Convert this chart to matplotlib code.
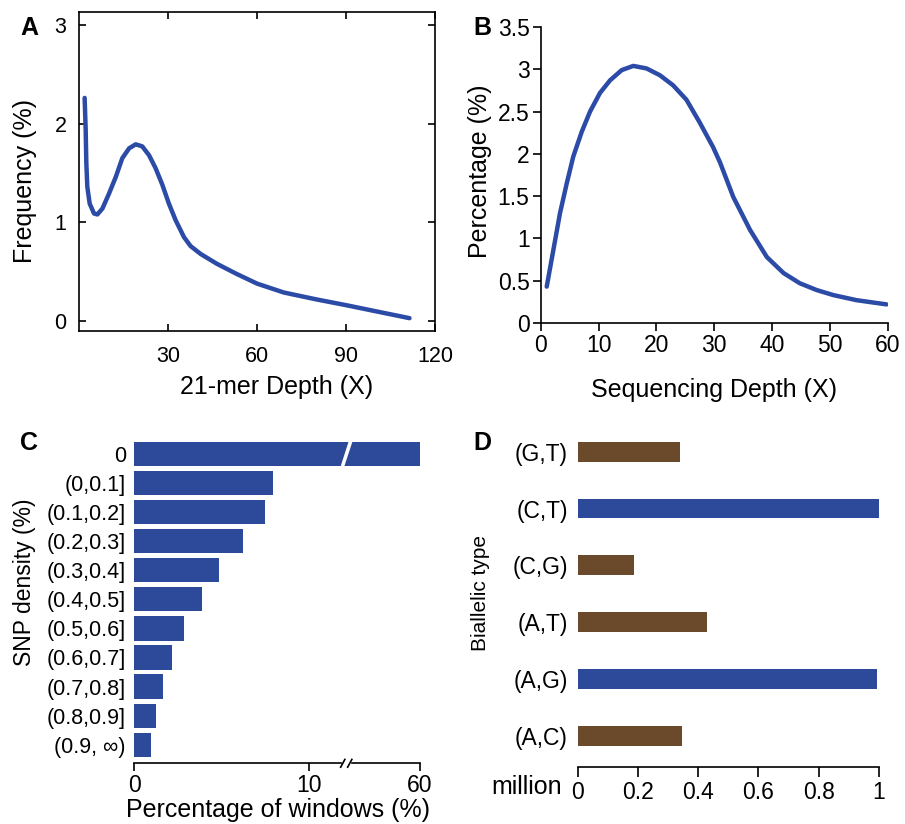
import numpy as np
import matplotlib
matplotlib.use("Agg")
import matplotlib.pyplot as plt
import matplotlib.transforms as mtransforms

plt.rcParams["font.family"] = ["Liberation Sans", "DejaVu Sans"]
plt.rcParams["axes.linewidth"] = 1.2

# ---- data -------------------------------------------------------------
# A: 21-mer depth distribution
kmer_depth = [1.9, 2.25, 2.47, 2.8, 3.6, 5.05, 6.2, 7.9, 10.1, 12.4, 14.6, 16.9,
              19.1, 21.3, 23.6, 25.8, 28.1, 30.3, 32.6, 35.4, 37.6, 41.0, 46.5,
              53.0, 60.0, 69.0, 80.0, 90.3, 100.0, 111.4]
kmer_freq = [2.26, 1.94, 1.60, 1.36, 1.19, 1.09, 1.08, 1.14, 1.29, 1.46, 1.65, 1.75,
             1.79, 1.77, 1.68, 1.55, 1.38, 1.19, 1.02, 0.85, 0.76, 0.68, 0.58,
             0.48, 0.38, 0.29, 0.22, 0.16, 0.10, 0.03]

# B: sequencing depth distribution
seq_depth = [1.04, 2.18, 3.34, 4.5, 5.64, 7.09, 8.53, 10.25, 12.0, 14.0, 16.0, 18.3,
             20.6, 22.9, 25.2, 27.5, 29.8, 31.0, 33.3, 36.2, 39.1, 42.0, 44.8,
             47.7, 50.6, 54.6, 59.8]
seq_pct = [0.43, 0.86, 1.30, 1.65, 1.97, 2.26, 2.50, 2.72, 2.87, 2.99, 3.04, 3.01,
           2.93, 2.81, 2.64, 2.37, 2.08, 1.90, 1.49, 1.10, 0.78, 0.59, 0.47,
           0.39, 0.33, 0.27, 0.22]

# C: SNP density windows
snp_bins = ["0", "(0,0.1]", "(0.1,0.2]", "(0.2,0.3]", "(0.3,0.4]", "(0.4,0.5]",
            "(0.5,0.6]", "(0.6,0.7]", "(0.7,0.8]", "(0.8,0.9]", "(0.9, \u221e)"]
snp_pct = [60.0, 7.94, 7.49, 6.23, 4.86, 3.87, 2.86, 2.17, 1.64, 1.22, 0.95]

# D: biallelic types (bottom to top)
bi_types = ["(A,C)", "(A,G)", "(A,T)", "(C,G)", "(C,T)", "(G,T)"]
bi_counts = [0.345, 0.994, 0.43, 0.188, 1.0, 0.34]
bi_transition = [False, True, False, False, True, False]

BLUE = "#2D4A9A"
CURVE = "#2B4BA6"
BROWN = "#6B4A2B"

W, H = 905, 824


def fx(px):
    return px / W


def fy(py):
    return 1 - py / H


def box(left, top, right, bottom):
    return [fx(left), fy(bottom), fx(right) - fx(left), fy(top) - fy(bottom)]


fig = plt.figure(figsize=(W / 100, H / 100), dpi=100)

# ---- A ----------------------------------------------------------------
axA = fig.add_axes(box(79, 12, 435, 331))
axA.plot(kmer_depth, kmer_freq, color=CURVE, lw=3.2,
         solid_capstyle="round", solid_joinstyle="round")
axA.set_xlim(0, 120)
axA.set_ylim(-0.1, 3.13)
axA.set_xticks([30, 60, 90, 120])
axA.set_yticks([0, 1, 2, 3])
axA.tick_params(direction="in", top=True, right=True, length=5, width=1.2,
                labelsize=15.5, pad=9)
axA.tick_params(axis="x", pad=11)
fig.text(fx(25), fy(181), "Frequency (%)", rotation=90, ha="center", va="center", fontsize=18)
fig.text(fx(277), fy(387), "21-mer Depth (X)", ha="center", va="center", fontsize=18)

# ---- B ----------------------------------------------------------------
axB = fig.add_axes(box(540.7, 27, 887.7, 323))
axB.plot(seq_depth, seq_pct, color=CURVE, lw=3.2,
         solid_capstyle="round", solid_joinstyle="round")
axB.set_xlim(0, 60)
axB.set_ylim(0, 3.5)
axB.set_xticks(np.arange(0, 61, 10))
axB.set_yticks([0, 0.5, 1, 1.5, 2, 2.5, 3, 3.5])
axB.set_yticklabels(["0", "0.5", "1", "1.5", "2", "2.5", "3", "3.5"])
axB.spines[["top", "right"]].set_visible(False)
axB.tick_params(direction="out", length=6, width=1.2, labelsize=16.5, pad=2)
fig.text(fx(480), fy(171), "Percentage (%)", rotation=90, ha="center", va="center", fontsize=18)
fig.text(fx(714), fy(390), "Sequencing Depth (X)", ha="center", va="center", fontsize=18)

# ---- C (broken x axis) -----------------------------------------------
LO, HI, GAP = 11.9, 56.0, 0.45


def fwd(v):
    v = np.asarray(v, float)
    return np.where(v <= LO, v,
                    np.where(v < HI, LO + (v - LO) / (HI - LO) * GAP, LO + GAP + (v - HI)))


def inv(m):
    m = np.asarray(m, float)
    return np.where(m <= LO, m,
                    np.where(m < LO + GAP, LO + (m - LO) / GAP * (HI - LO), HI + (m - LO - GAP)))


axC = fig.add_axes(box(134.3, 439.8, 420, 763.3))
axC.set_xscale("function", functions=(fwd, inv))
ypos = np.arange(len(snp_bins))
axC.barh(ypos, snp_pct, height=0.83, color=BLUE)
axC.set_xlim(0, 60)
axC.set_ylim(10.645, -0.5)
axC.set_yticks(ypos)
axC.set_yticklabels(snp_bins)
axC.set_xticks([0, 10, 60])
axC.set_xticklabels(["0", "10", "60"])
axC.xaxis.set_minor_locator(matplotlib.ticker.NullLocator())
for s in ["top", "right", "left", "bottom"]:
    axC.spines[s].set_visible(False)
axC.tick_params(axis="y", length=0, labelsize=15.5, pad=6)
axC.tick_params(axis="x", direction="out", length=6, width=1.2, labelsize=16.5, pad=2)

# white slanted gap through the first bar
gap_m = [11.79, 12.0, 12.49, 12.27]
gap_y = [0.45, 0.45, -0.45, -0.45]
axC.fill(inv(gap_m), gap_y, color="white", lw=0, zorder=3)

# broken axis line with slashes
tC = mtransforms.blended_transform_factory(axC.transData, axC.transAxes)
axC.plot(inv([0, 11.85]), [0, 0], color="black", lw=1.2, transform=tC, clip_on=False)
axC.plot(inv([12.48, fwd(60)]), [0, 0], color="black", lw=1.2, transform=tC, clip_on=False)
for m in [11.93, 12.33]:
    axC.plot(inv([m - 0.12, m + 0.12]), [-0.012, 0.012], color="black", lw=1.2,
             transform=tC, clip_on=False)
fig.text(fx(25), fy(582), "SNP density (%)", rotation=90, ha="center", va="center", fontsize=16.5)
fig.text(fx(278), fy(810), "Percentage of windows (%)", ha="center", va="center", fontsize=18)

# ---- D ----------------------------------------------------------------
axD = fig.add_axes(box(577.7, 423.2, 879, 766.7))
ypos_d = np.arange(len(bi_types))
axD.barh(ypos_d, bi_counts, height=0.35,
         color=[BLUE if t else BROWN for t in bi_transition])
axD.set_xlim(0, 1)
axD.set_ylim(-0.54, 5.5)
axD.set_yticks(ypos_d)
axD.set_yticklabels(bi_types)
axD.set_xticks(np.arange(0, 1.01, 0.2))
axD.set_xticklabels(["0", "0.2", "0.4", "0.6", "0.8", "1"])
for s in ["top", "right", "left"]:
    axD.spines[s].set_visible(False)
axD.tick_params(axis="y", length=0, labelsize=16.5, pad=7)
axD.tick_params(axis="x", direction="out", length=7, width=1.2, labelsize=16.5, pad=3)
fig.text(fx(527), fy(787), "million", ha="center", va="center", fontsize=18)
fig.text(fx(480), fy(593), "Biallelic type", rotation=90, ha="center", va="center", fontsize=15)

# ---- panel letters ----------------------------------------------------
for letter, (px, py) in zip("ABCD", [(29, 28), (482, 28), (29, 443), (482, 443)]):
    fig.text(fx(px), fy(py), letter, ha="center", va="center", fontsize=18, fontweight="bold")

fig.savefig("out.png", dpi=100)
